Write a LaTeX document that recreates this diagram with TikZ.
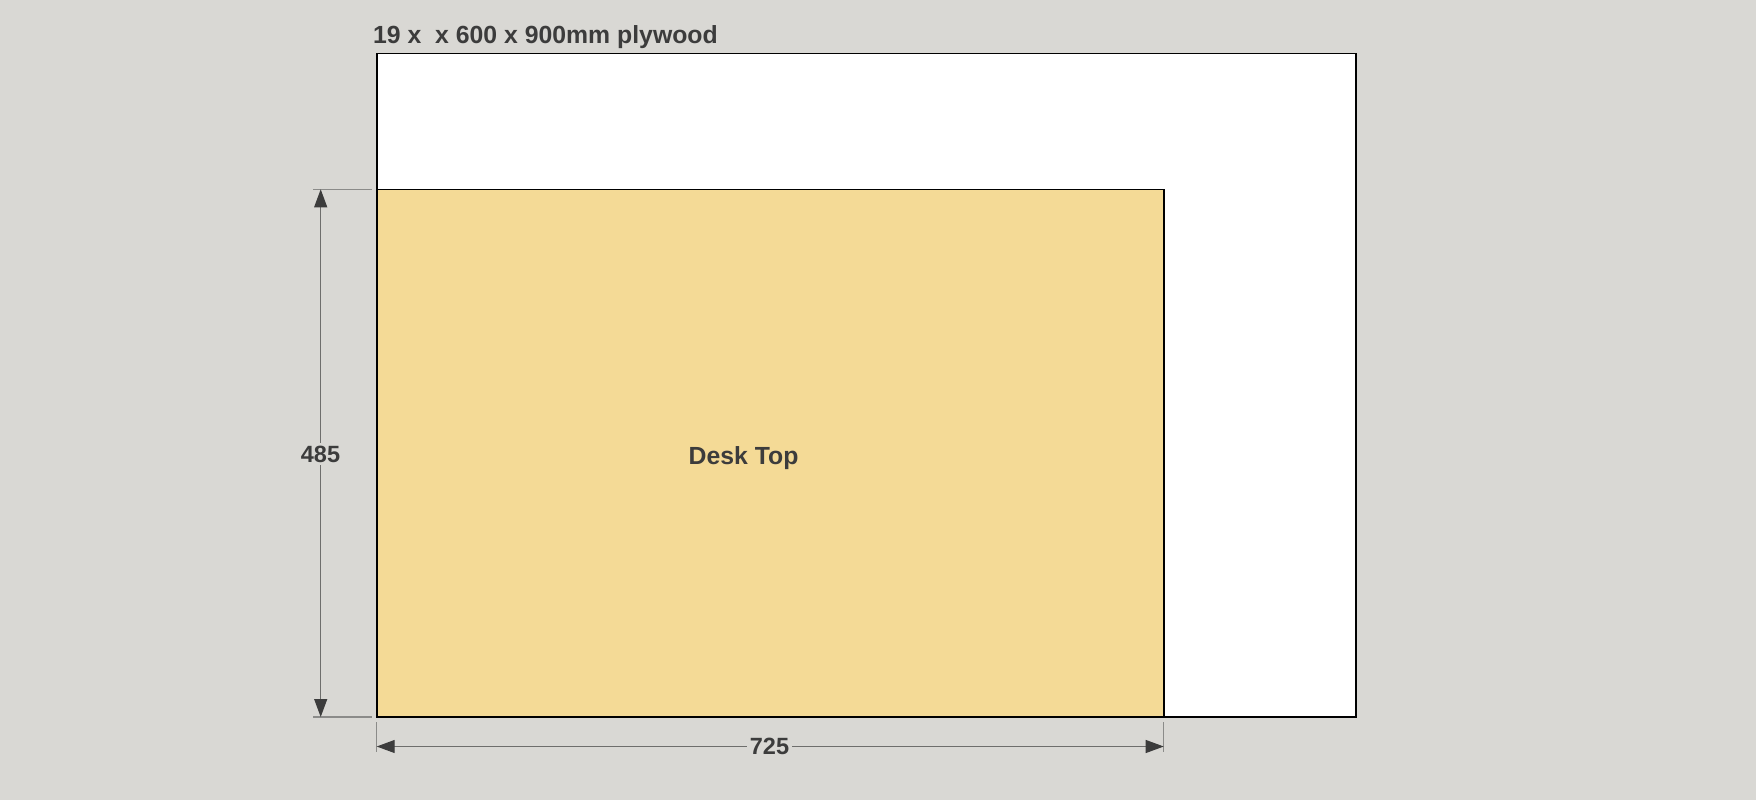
\documentclass[tikz,border=0pt]{standalone}
\usepackage{fontspec}
\setmainfont{Liberation Sans}
\usetikzlibrary{arrows.meta}
\definecolor{bg}{HTML}{D9D8D4}
\definecolor{desk}{HTML}{F4DA96}
\definecolor{txt}{HTML}{3C3C3C}
\definecolor{dim}{HTML}{6E6E6C}
\begin{document}
\begin{tikzpicture}[x=1pt,y=-1pt,
  board/.style={draw=black,line width=1.8pt,outer sep=0pt,inner sep=0pt},
  dimline/.style={draw=dim,line width=1.1pt,{Triangle[length=18pt,width=13pt,color=txt]}-{Triangle[length=18pt,width=13pt,color=txt]}},
  extline/.style={draw=dim!80,line width=1.1pt},
  lbl/.style={font=\bfseries\fontsize{24.8}{28}\selectfont,text=txt,inner sep=2pt},
  dimlbl/.style={font=\bfseries\fontsize{23.5}{26}\selectfont,text=txt,fill=bg,inner sep=3pt}]
\useasboundingbox[fill=bg] (0,0) rectangle (1756,800);
% plywood sheet
\node[board,fill=white,minimum width=979pt,minimum height=663.5pt,anchor=north west] (ply) at (376.7,53.5) {};
% desk top
\node[board,fill=desk,minimum width=787pt,minimum height=527.5pt,anchor=south west] (top) at (ply.south west) {};
\node[lbl] (toplbl) at (743.5,458) {Desk Top};
\node[lbl,anchor=base west,inner sep=0pt] (title) at (373,44) {19 x \ x 600 x 900mm plywood};
% extension lines
\coordinate (e1a) at (313,189.3);
\coordinate (e1b) at (371.5,189.3);
\coordinate (e2a) at (313,717);
\coordinate (e2b) at (371.5,717);
\coordinate (e3a) at (376.7,722);
\coordinate (e3b) at (376.7,752);
\coordinate (e4a) at (1163.7,722);
\coordinate (e4b) at (1163.7,752);
\draw[extline] (e1a) -- (e1b);
\draw[extline] (e2a) -- (e2b);
\draw[extline] (e3a) -- (e3b);
\draw[extline] (e4a) -- (e4b);
% dimension lines
\coordinate (v1) at (320.7,189.3);
\coordinate (v2) at (320.7,717);
\coordinate (h1) at (376.7,746.5);
\coordinate (h2) at (1163.7,746.5);
\draw[dimline] (v1) -- (v2);
\draw[dimline] (h1) -- (h2);
\node[dimlbl] (vlbl) at (320.5,454) {485};
\node[dimlbl] (hlbl) at (769.5,746) {725};
\end{tikzpicture}
\end{document}
